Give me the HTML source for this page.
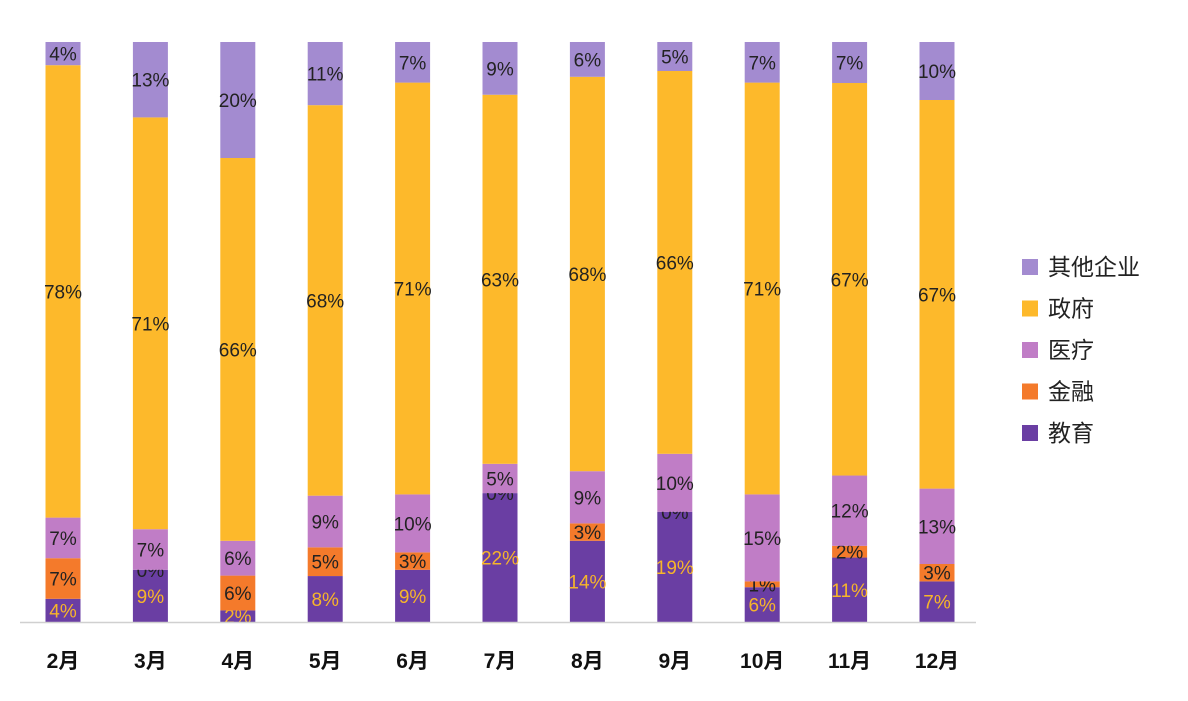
<!DOCTYPE html>
<html><head><meta charset="utf-8"><style>
body{margin:0;background:#fff;width:1188px;height:696px;overflow:hidden;font-family:"Liberation Sans","Noto Sans CJK SC",sans-serif}
</style></head><body>
<svg id="chart" width="1188" height="696" xmlns="http://www.w3.org/2000/svg"></svg>
<script>
const categories=["2月","3月","4月","5月","6月","7月","8月","9月","10月","11月","12月"];
const seriesNames=["教育","金融","医疗","政府","其他企业"];
const education=[4,9,2,8,9,22,14,19,6,11,7];
const finance=[7,0,6,5,3,0,3,0,1,2,3];
const medical=[7,7,6,9,10,5,9,10,15,12,13];
const government=[78,71,66,68,71,63,68,66,71,67,67];
const other=[4,13,20,11,7,9,6,5,7,7,10];
const series=[education,finance,medical,government,other];
const colors=["#6a3ea3","#f47a2b","#c07dc6","#fdb92b","#a38bd0"];
const labelColors=["#f7b52a","#222","#222","#222","#222"];
const keys=["education","finance","medical","government","other"];
const svg=document.getElementById('chart');
const NS="http://www.w3.org/2000/svg";
const top0=42,bottom=622,x0=63,step=87.4,bw=35;
const xPos=i=>x0+i*step;
function mk(t,a){const e=document.createElementNS(NS,t);for(const k in a)e.setAttribute(k,a[k]);svg.appendChild(e);return e;}
categories.forEach((c,i)=>{
  const tot=series.reduce((s,a)=>s+a[i],0);
  let y=bottom;
  series.forEach((arr,s)=>{
    const h=arr[i]/tot*(bottom-top0);
    const r=mk('rect',{x:xPos(i)-bw/2,y:y-h,width:bw,height:h,fill:colors[s]});
    
    
    const t=mk('text',{x:xPos(i),y:y-h/2+7,'text-anchor':'middle','font-size':19,fill:labelColors[s]});
    
    
    t.textContent=arr[i]+'%';
    y-=h;
  });
  const xl=mk('text',{x:xPos(i),y:668,'text-anchor':'middle','font-size':21,'font-weight':'bold',fill:'#111'});
  
  
  xl.textContent=c;
});
const ax=mk('line',{x1:20,x2:976,y1:622.5,y2:622.5,stroke:'#d0d0d0','stroke-width':1.5});


for(let s=4;s>=0;s--){
  const y=267+(4-s)*41.5;
  const g=mk('g',{});
  
  
  const r=document.createElementNS(NS,'rect');
  r.setAttribute('x',1022);r.setAttribute('y',y-8);r.setAttribute('width',16);r.setAttribute('height',16);r.setAttribute('fill',colors[s]);
  
  
  g.appendChild(r);
  const t=document.createElementNS(NS,'text');
  t.setAttribute('x',1048);t.setAttribute('y',y+8);t.setAttribute('font-size',23);t.setAttribute('fill','#222');
  
  
  t.textContent=seriesNames[s];
  g.appendChild(t);
}
</script>
</body></html>
